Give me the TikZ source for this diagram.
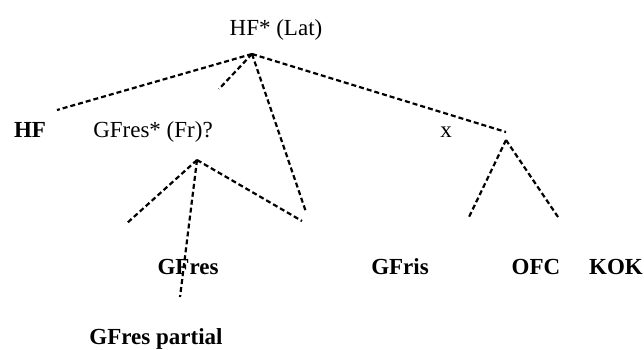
\documentclass[tikz,border=0pt]{standalone}
\usepackage{fontspec}
\setmainfont{Liberation Serif}
\usepackage{tikz}
\usetikzlibrary{positioning}
\tikzset{
  lbl/.style={inner sep=0pt, anchor=base, font=\fontsize{23}{27}\selectfont},
  blbl/.style={lbl, font=\fontsize{23}{27}\selectfont\bfseries},
  dashln/.style={dash pattern=on 5pt off 3pt, line width=2.2pt},
}
\begin{document}
\begin{tikzpicture}[x=1pt, y=-1pt]
        \useasboundingbox (0,0) rectangle (644,349);
        % labels
        \node[lbl] (lat) at (276,35) {HF* (Lat)};
        \node[blbl] (hf) at (30,137) {HF};
        \node[lbl] (fr) at (153,137) {GFres* (Fr)?};
        \node[lbl] (x) at (446,137) {x};
        \node[blbl] (gfres) at (188,274) {GFres};
        \node[blbl] (gfris) at (400,274) {GFris};
        \node[blbl] (ofc) at (536,274) {OFC};
        \node[blbl] (kok) at (616,274) {KOK};
        \node[blbl] (part) at (156,344) {GFres partial};
        % branching points
        \coordinate (top) at (252,54);
        \coordinate (sub) at (197,160);
        \coordinate (rtop) at (506,132);
        \coordinate (rsub) at (506,140);
        % free ends
        \coordinate (e1) at (57,110);
        \coordinate (e2) at (219,89);
        \coordinate (e3) at (306,212);
        \coordinate (e4) at (126,224);
        \coordinate (e5) at (180,297);
        \coordinate (e6) at (302,221);
        \coordinate (e7) at (469,217);
        \coordinate (e8) at (558,217);
        \draw[dashln] (top) -- (e1);
        \draw[dashln] (top) -- (e2);
        \draw[dashln] (top) -- (e3);
        \draw[dashln] (top) -- (rtop);
        \draw[dashln] (sub) -- (e4);
        \draw[dashln] (sub) -- (e5);
        \draw[dashln] (sub) -- (e6);
        \draw[dashln] (rsub) -- (e7);
        \draw[dashln] (rsub) -- (e8);
      \end{tikzpicture}
\end{document}
